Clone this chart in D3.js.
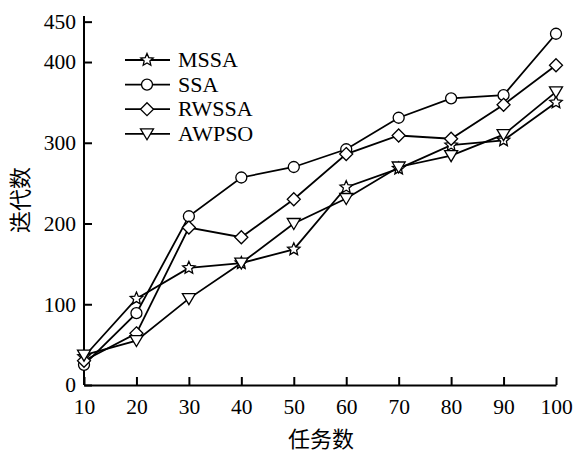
<!DOCTYPE html>
<html>
<head>
<meta charset="utf-8">
<script src="https://d3js.org/d3.v7.min.js"></script>
<style>
  body { margin: 0; background: #fff; }
  text { font-family: "Liberation Serif", "Times New Roman", serif; fill: #000; }
  .cjk { font-family: "Noto Sans CJK SC", sans-serif; }
</style>
</head>
<body>
<div id="chart"></div>
<script>
const tasks = [10, 20, 30, 40, 50, 60, 70, 80, 90, 100];
const mssa  = [35, 107, 145, 151, 168, 245, 268, 297, 303, 350];
const ssa   = [25, 89, 209, 257, 270, 292, 331, 355, 359, 435];
const rwssa = [30, 64, 195, 183, 230, 286, 309, 305, 347, 396];
const awpso = [37, 55, 107, 151, 200, 231, 270, 284, 310, 363];
const yTicks = [0, 100, 200, 300, 400, 450];
const seriesNames = ["MSSA", "SSA", "RWSSA", "AWPSO"];
const markers = ["star", "circle", "diamond", "triangle"];

const width = 579, height = 454;

const svg = d3.select("#chart").append("svg")
  .attr("width", width)
  .attr("height", height);

const x = d3.scaleLinear().domain([10, 100]).range([84, 556]);
const y = d3.scaleLinear().domain([0, 457]).range([385, 16]);

// axes, ticks pointing inward
const xAxis = d3.axisBottom(x).tickValues(tasks).tickSizeInner(-8).tickSizeOuter(0).tickPadding(14);
const yAxis = d3.axisLeft(y).tickValues(yTicks).tickSizeInner(-8).tickSizeOuter(0).tickPadding(8);

const gx = svg.append("g").attr("transform", "translate(0,385)").call(xAxis);
const gy = svg.append("g").attr("transform", "translate(84,0)").call(yAxis);

[gx, gy].forEach(g => {
  g.select(".domain").attr("stroke", "#000").attr("stroke-width", 2);
  g.selectAll(".tick line").attr("stroke", "#000").attr("stroke-width", 2);
  g.selectAll(".tick text").attr("font-size", 21.5).attr("font-family", "Liberation Serif");
});
gy.select(".domain").attr("d", `M0,385V${y(457)}`);

svg.append("text").attr("class", "cjk")
  .attr("x", 321).attr("y", 447)
  .attr("text-anchor", "middle").attr("font-size", 22)
  .text("任务数");

svg.append("text").attr("class", "cjk")
  .attr("transform", "translate(28,200) rotate(-90)")
  .attr("text-anchor", "middle").attr("font-size", 22)
  .text("迭代数");

const series = [mssa, ssa, rwssa, awpso];

function drawMarker(g, type) {
  if (type === "circle") {
    g.append("circle").attr("r", 5.5);
  } else if (type === "diamond") {
    g.append("path").attr("d", "M0,-6.5L6.5,0L0,6.5L-6.5,0Z");
  } else if (type === "triangle") {
    g.append("path").attr("d", "M-6.5,-5L6.5,-5L0,6Z");
  } else {
    const pts = [];
    for (let i = 0; i < 10; i++) {
      const r = i % 2 === 0 ? 6.5 : 3;
      const a = -Math.PI / 2 + i * Math.PI / 5;
      pts.push([r * Math.cos(a), r * Math.sin(a)]);
    }
    g.append("path").attr("d", "M" + pts.map(p => p.join(",")).join("L") + "Z");
  }
  g.selectAll("*").attr("fill", "#fff").attr("stroke", "#000").attr("stroke-width", 1.3);
}

const line = d3.line().x((d, i) => x(tasks[i])).y(d => y(d));

series.forEach((s, k) => {
  svg.append("path").datum(s)
    .attr("fill", "none").attr("stroke", "#000").attr("stroke-width", 1.8)
    .attr("d", line);
});
series.forEach((s, k) => {
  s.forEach((v, i) => {
    const g = svg.append("g").attr("transform", `translate(${x(tasks[i])},${y(v)})`);
    drawMarker(g, markers[k]);
  });
});

// legend
const legend = svg.append("g");
seriesNames.forEach((name, k) => {
  const ly = 60 + k * 24.6;
  legend.append("line").attr("x1", 125).attr("x2", 170).attr("y1", ly).attr("y2", ly)
    .attr("stroke", "#000").attr("stroke-width", 1.8);
  const g = legend.append("g").attr("transform", `translate(147,${ly})`);
  drawMarker(g, markers[k]);
  legend.append("text").attr("x", 178).attr("y", ly + 7)
    .attr("font-size", 22).text(name);
});
</script>
</body>
</html>
